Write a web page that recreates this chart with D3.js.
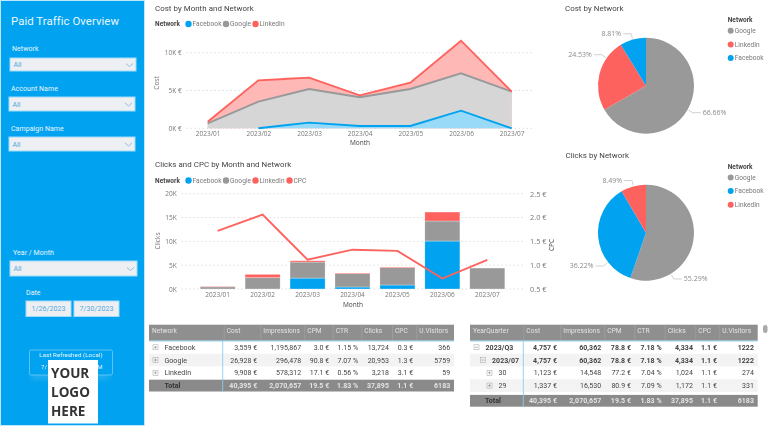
<!DOCTYPE html>
<html>
<head>
<meta charset="utf-8">
<script src="https://cdn.jsdelivr.net/npm/d3@7"></script>
<style>
  html, body { margin: 0; padding: 0; background: #fff; overflow: hidden; }
  svg { display: block; filter: blur(0.45px); }
  text { font-family: "Open Sans", sans-serif; }
  .din, .din text { font-family: Roboto, sans-serif; letter-spacing: 0.05px; }
</style>
</head>
<body>
<script>
const months = ['2023/01', '2023/02', '2023/03', '2023/04', '2023/05', '2023/06', '2023/07'];
const networks = ['Facebook', 'Google', 'LinkedIn'];

const costFacebook = [0, 0, 750, 300, 300, 2330, 0];
const costGoogle = [660, 3520, 4450, 3800, 4900, 4940, 4850];
const costLinkedIn = [220, 2820, 1500, 260, 830, 4320, 0];

const clicksFacebook = [0, 0, 2300, 420, 840, 10070, 0];
const clicksGoogle = [450, 2380, 3360, 2800, 3640, 4200, 4400];
const clicksLinkedIn = [120, 700, 280, 140, 140, 1880, 0];
const cpc = [1.72, 2.06, 1.115, 1.325, 1.30, 0.72, 1.11];

const costTicks = [0, 5000, 10000];
const clickTicks = [0, 5000, 10000, 15000, 20000];
const cpcTicks = [0.5, 1.0, 1.5, 2.0, 2.5];

const costPieNames = ['Google', 'LinkedIn', 'Facebook'];
const costPieShares = [66.66, 24.53, 8.81];
const clickPieNames = ['Google', 'Facebook', 'LinkedIn'];
const clickPieShares = [55.29, 36.22, 8.49];

const tableOneHead = ['Network', 'Cost', 'Impressions', 'CPM', 'CTR', 'Clicks', 'CPC', 'U.Visitors'];
const tableOneRows = [
  ['Facebook', '3,559 €', '1,195,867', '3.0 €', '1.15 %', '13,724', '0.3 €', '366'],
  ['Google', '26,928 €', '296,478', '90.8 €', '7.07 %', '20,953', '1.3 €', '5759'],
  ['LinkedIn', '9,908 €', '578,312', '17.1 €', '0.56 %', '3,218', '3.1 €', '59']
];
const tableTotal = ['Total', '40,395 €', '2,070,657', '19.5 €', '1.83 %', '37,895', '1.1 €', '6183'];

const tableTwoHead = ['YearQuarter', 'Cost', 'Impressions', 'CPM', 'CTR', 'Clicks', 'CPC', 'U.Visitors'];
const tableTwoRows = [
  ['2023/Q3', '4,757 €', '60,362', '78.8 €', '7.18 %', '4,334', '1.1 €', '1222'],
  ['2023/07', '4,757 €', '60,362', '78.8 €', '7.18 %', '4,334', '1.1 €', '1222'],
  ['30', '1,123 €', '14,548', '77.2 €', '7.04 %', '1,024', '1.1 €', '274'],
  ['29', '1,337 €', '16,530', '80.9 €', '7.09 %', '1,172', '1.1 €', '331']
];

const w = 768;
const h = 428;
const colors = { Facebook: '#01a2ef', Google: '#999999', LinkedIn: '#fd625e', CPC: '#fd625e' };
const lightColors = { Facebook: '#99daf9', Google: '#d6d6d6', LinkedIn: '#feb9b7' };
const textGrey = '#777';
const darkText = '#444';

const svg = d3.select('body').append('svg').attr('width', w).attr('height', h);

const addText = (parent, x, y, str, size, fill, opts = {}) => parent.append('text')
  .attr('x', x).attr('y', y)
  .attr('dy', '0.35em')
  .attr('font-size', size)
  .attr('fill', fill)
  .attr('font-weight', opts.bold ? 700 : 400)
  .attr('text-anchor', opts.anchor || 'start')
  .attr('class', opts.din ? 'din' : null)
  .attr('transform', opts.rotate ? `rotate(-90 ${x} ${y})` : null)
  .text(str);

// side panel
const side = svg.append('g').attr('class', 'din');
side.append('rect').attr('x', 0.5).attr('y', 0.5).attr('width', 144).attr('height', 425)
  .attr('fill', '#01a2ef').attr('stroke', '#bfe6fa');
addText(side, 11, 21, 'Paid Traffic Overview', 11.4, '#e8f6fe');

const slicer = (x, y, boxW, boxH, label, lx, ly) => {
  addText(side, lx, ly, label, 7, '#e8f6fe');
  side.append('rect').attr('x', x).attr('y', y).attr('width', boxW).attr('height', boxH)
    .attr('fill', '#eeeff2').attr('stroke', '#9fdcfa');
  addText(side, x + 3.5, y + boxH / 2 + 0.5, 'All', 7, '#4fa9de');
  side.append('path')
    .attr('d', d3.line()([[x + boxW - 10, y + boxH / 2 - 1], [x + boxW - 6.5, y + boxH / 2 + 2], [x + boxW - 3, y + boxH / 2 - 1]]))
    .attr('fill', 'none').attr('stroke', '#8cc4e6');
};
slicer(10, 58, 126, 13, 'Network', 12, 49);
slicer(9, 97, 126, 14, 'Account Name', 11, 89);
slicer(9, 137, 126, 14, 'Campaign Name', 11, 129);
slicer(10, 261, 127, 15, 'Year / Month', 13, 253);

addText(side, 26, 293, 'Date', 7, '#e8f6fe');
[[26, '1/26/2023'], [74, '7/30/2023']].forEach(([x, s]) => {
  side.append('rect').attr('x', x).attr('y', 301).attr('width', 45).attr('height', 15.5)
    .attr('fill', '#eeeff2').attr('stroke', '#9fdcfa');
  addText(side, x + 22.5, 309, s, 7, '#4fa9de', { anchor: 'middle' });
});

side.append('rect').attr('x', 31).attr('y', 373).attr('width', 79).attr('height', 5)
  .attr('fill', '#35b4f0').style('filter', 'blur(3px)');
side.append('rect').attr('x', 29.5).attr('y', 350).attr('width', 83).attr('height', 25).attr('rx', 1.5)
  .attr('fill', '#01a2ef').attr('stroke', '#5cc3f4');
addText(side, 71, 355, 'Last Refreshed (Local)', 6.2, '#e8f6fe', { anchor: 'middle' });
// the logo hides the middle of the date
addText(side, 41, 367, '7/', 6.2, '#e8f6fe');
addText(side, 102.7, 367, 'M', 6.2, '#e8f6fe', { anchor: 'end' });

const logo = svg.append('g');
logo.append('rect').attr('x', 48).attr('y', 360).attr('width', 50).attr('height', 63.5).attr('fill', '#fff');
['YOUR', 'LOGO', 'HERE'].forEach((s, i) => {
  addText(logo, 51, 373 + i * 19.2, s, 13.5, '#333', { bold: true });
});

// shared bits for the two charts on the left
const legendRow = (y, items) => {
  addText(svg, 155, y, 'Network', 6.5, darkText, { bold: true, din: true });
  items.forEach(d => {
    svg.append('circle').attr('cx', d.x).attr('cy', y).attr('r', 3.2).attr('fill', colors[d.name]);
    addText(svg, d.x + 4, y, d.name, 6.6, textGrey, { din: true });
  });
};

const styleAxis = (g, size, fill) => {
  g.select('.domain').remove();
  g.selectAll('.tick line').remove();
  g.selectAll('text').attr('font-size', size).attr('fill', fill)
    .attr('font-family', '"Open Sans", sans-serif');
};

// cost area chart
addText(svg, 155, 8, 'Cost by Month and Network', 7.9, '#444', { din: true });
legendRow(24, [{ name: 'Facebook', x: 188.5 }, { name: 'Google', x: 226 }, { name: 'LinkedIn', x: 255.5 }]);

const costRows = months.map((m, i) => ({ month: m, Facebook: costFacebook[i], Google: costGoogle[i], LinkedIn: costLinkedIn[i] }));
const costStack = d3.stack().keys(networks)(costRows);
const xCost = d3.scalePoint().domain(months).range([207.7, 511.7]);
const yCost = d3.scaleLinear().domain([0, 10000]).range([128.3, 52.7]);

svg.append('g').selectAll('line').data(costTicks).join('line')
  .attr('x1', 186.7).attr('x2', 531.7)
  .attr('y1', d => yCost(d)).attr('y2', d => yCost(d))
  .attr('stroke', '#cfcfcf').attr('stroke-dasharray', '1 3');

// Facebook only starts in February
const hasCost = (d, name) => name !== 'Facebook' || d.data.month !== '2023/01';
const areaGen = name => d3.area()
  .defined(d => hasCost(d, name))
  .x(d => xCost(d.data.month)).y0(yCost(0)).y1(d => yCost(d[1]));
const lineGen = name => d3.line()
  .defined(d => hasCost(d, name))
  .x(d => xCost(d.data.month)).y(d => yCost(d[1]));

costStack.slice().reverse().forEach(s => {
  svg.append('path').datum(s).attr('d', areaGen(s.key)).attr('fill', lightColors[s.key]);
});
costStack.forEach(s => {
  svg.append('path').datum(s).attr('d', lineGen(s.key))
    .attr('fill', 'none').attr('stroke', colors[s.key]).attr('stroke-width', 1.9);
});

svg.append('g').attr('transform', 'translate(181.7,0)')
  .call(d3.axisLeft(yCost).tickValues(costTicks).tickSize(0).tickPadding(0).tickFormat(d => `${d / 1000}K €`))
  .call(styleAxis, 6.5, textGrey);
svg.append('g').attr('transform', 'translate(0,131)')
  .call(d3.axisBottom(xCost).tickSize(0).tickPadding(0))
  .call(styleAxis, 6.5, textGrey);
addText(svg, 157, 83, 'Cost', 6.5, textGrey, { rotate: true, anchor: 'middle' });
addText(svg, 360, 143, 'Month', 6.5, darkText, { anchor: 'middle' });

// clicks and cpc chart
addText(svg, 155, 164.5, 'Clicks and CPC by Month and Network', 7.9, '#444', { din: true });
legendRow(180.5, [{ name: 'Facebook', x: 188.5 }, { name: 'Google', x: 226 }, { name: 'LinkedIn', x: 255.5 }, { name: 'CPC', x: 289.5 }]);

const clickRows = months.map((m, i) => ({ month: m, Facebook: clicksFacebook[i], Google: clicksGoogle[i], LinkedIn: clicksLinkedIn[i] }));
const clickStack = d3.stack().keys(networks)(clickRows);
const xClicks = d3.scaleBand().domain(months).range([195.2, 509.8]).paddingInner(0.22).paddingOuter(0.11);
const yClicks = d3.scaleLinear().domain([0, 20000]).range([289, 193.7]);
const yCpc = d3.scaleLinear().domain([0.5, 2.5]).range([289, 193.7]);

svg.append('g').selectAll('line').data(clickTicks).join('line')
  .attr('x1', 181.7).attr('x2', 525)
  .attr('y1', d => yClicks(d)).attr('y2', d => yClicks(d))
  .attr('stroke', '#cfcfcf').attr('stroke-dasharray', '1 3');

svg.append('g').selectAll('g').data(clickStack).join('g')
  .attr('fill', d => colors[d.key])
  .selectAll('rect').data(d => d).join('rect')
  .attr('x', d => xClicks(d.data.month))
  .attr('width', xClicks.bandwidth())
  .attr('y', d => yClicks(d[1]))
  .attr('height', d => yClicks(d[0]) - yClicks(d[1]))
  .attr('stroke', d => d[1] > d[0] ? '#fff' : 'none')
  .attr('stroke-opacity', 0.6)
  .attr('stroke-width', 0.5);

svg.append('path').datum(cpc)
  .attr('d', d3.line()
    .x((d, i) => xClicks(months[i]) + xClicks.bandwidth() / 2)
    .y(d => yCpc(d)))
  .attr('fill', 'none').attr('stroke', colors.CPC).attr('stroke-width', 1.9);

svg.append('g').attr('transform', 'translate(176.7,0)')
  .call(d3.axisLeft(yClicks).tickValues(clickTicks).tickSize(0).tickPadding(0).tickFormat(d => `${d / 1000}K`))
  .call(styleAxis, 6.5, textGrey);
svg.append('g').attr('transform', 'translate(530,0)')
  .call(d3.axisRight(yCpc).tickValues(cpcTicks).tickSize(0).tickPadding(0).tickFormat(d => `${d.toFixed(1)} €`))
  .call(styleAxis, 7.4, textGrey);
svg.append('g').attr('transform', 'translate(0,292.5)')
  .call(d3.axisBottom(xClicks).tickSize(0).tickPadding(0))
  .call(styleAxis, 6.5, textGrey);
addText(svg, 158, 241, 'Clicks', 6.5, textGrey, { rotate: true, anchor: 'middle' });
addText(svg, 552, 245, 'CPC', 6.5, darkText, { rotate: true, anchor: 'middle' });
addText(svg, 353, 304.7, 'Month', 6.5, darkText, { anchor: 'middle' });

// pies
const drawPie = (names, shares, cx, cy, labelAngles) => {
  const r = 48;
  const arcs = d3.pie().sort(null)(shares);
  const g = svg.append('g').attr('transform', `translate(${cx},${cy})`);
  g.selectAll('path').data(arcs).join('path')
    .attr('d', d3.arc().innerRadius(0).outerRadius(r))
    .attr('fill', (d, i) => colors[names[i]]);
  arcs.forEach((a, i) => {
    const ang = labelAngles[i] * Math.PI / 180;
    const dir = Math.sin(ang) > 0 ? 1 : -1;
    const ex = Math.sin(ang) * 54;
    const ey = -Math.cos(ang) * 54;
    g.append('path')
      .attr('d', d3.line()([[Math.sin(ang) * 49, -Math.cos(ang) * 49], [ex, ey], [ex + dir * 8, ey]]))
      .attr('fill', 'none').attr('stroke', '#bdbdbd').attr('stroke-width', 0.7);
    addText(g, ex + dir * 10, ey, `${shares[i].toFixed(2)}%`, 7, '#8a8a8a', { anchor: dir > 0 ? 'start' : 'end' });
  });
};
const pieLegend = (names, y) => {
  addText(svg, 727.7, y, 'Network', 6.5, darkText, { bold: true, din: true });
  names.forEach((n, i) => {
    svg.append('circle').attr('cx', 730.7).attr('cy', y + 10.7 + i * 13.7).attr('r', 3).attr('fill', colors[n]);
    addText(svg, 734.7, y + 10.7 + i * 13.7, n, 6.6, textGrey, { din: true });
  });
};

addText(svg, 565, 8, 'Cost by Network', 7.9, '#444', { din: true });
drawPie(costPieNames, costPieShares, 646, 85.7, [120, 305, 344]);
pieLegend(costPieNames, 20);

addText(svg, 565.5, 155, 'Clicks by Network', 7.9, '#444', { din: true });
drawPie(clickPieNames, clickPieShares, 646, 232.7, [149, 232, 345]);
pieLegend(clickPieNames, 166.7);

// tables
const drawTable = cfg => {
  const g = svg.append('g').attr('class', 'din');
  g.append('rect').attr('x', cfg.x0).attr('y', 324.7).attr('width', cfg.x1 - cfg.x0).attr('height', 16)
    .attr('fill', '#8f8f8f');
  cfg.headX.slice(1).forEach((x) => {
    g.append('line').attr('x1', x - 2.5).attr('x2', x - 2.5).attr('y1', 324.7).attr('y2', 340.7)
      .attr('stroke', '#a8a8a8').attr('stroke-width', 0.5);
  });
  cfg.head.forEach((s, i) => {
    addText(g, i === 0 ? cfg.x0 + 3 : cfg.headX[i], 331, s, 6.6, '#e4e4e4');
  });
  g.append('line').attr('x1', cfg.x0).attr('x2', cfg.x1).attr('y1', 341).attr('y2', 341)
    .attr('stroke', '#8ccdf2').attr('stroke-width', 0.9);

  cfg.rows.forEach((row, r) => {
    const y = 347.3 + r * 12.75;
    if (r % 2 === 1) {
      g.append('rect').attr('x', cfg.x0).attr('y', y - 6.3).attr('width', cfg.x1 - cfg.x0).attr('height', 12.6)
        .attr('fill', '#f3f3f3');
    }
    const indent = cfg.indent ? cfg.indent[r] : 0;
    const bx = cfg.x0 + 4 + indent;
    g.append('rect').attr('x', bx).attr('y', y - 2.5).attr('width', 5).attr('height', 5)
      .attr('fill', 'none').attr('stroke', '#a0a0a0').attr('stroke-width', 0.5);
    g.append('path')
      .attr('d', cfg.open && cfg.open[r] ? `M${bx + 1},${y}H${bx + 4}` : `M${bx + 1},${y}H${bx + 4}M${bx + 2.5},${y - 1.5}V${y + 1.5}`)
      .attr('stroke', '#777').attr('stroke-width', 0.5);
    const bold = cfg.boldRows && cfg.boldRows[r];
    addText(g, bx + 11.5, y, row[0], 7, '#444', { bold });
    row.slice(1).forEach((s, i) => {
      addText(g, cfg.rightX[i], y, s, 7, '#444', { anchor: 'end', bold });
    });
  });

  g.append('rect').attr('x', cfg.x0).attr('y', cfg.totalY - 5.8).attr('width', cfg.x1 - cfg.x0).attr('height', 11.8)
    .attr('fill', '#8a8a8a');
  addText(g, cfg.totalX, cfg.totalY, tableTotal[0], 7, '#333', { bold: true });
  tableTotal.slice(1).forEach((s, i) => {
    addText(g, cfg.rightX[i], cfg.totalY, s, 7, '#e4e4e4', { anchor: 'end', bold: true });
  });
  g.append('line').attr('x1', cfg.split).attr('x2', cfg.split).attr('y1', 341).attr('y2', cfg.totalY + 6)
    .attr('stroke', '#8ccdf2').attr('stroke-width', 0.9);
};

drawTable({
  x0: 149, x1: 454, head: tableOneHead, rows: tableOneRows, totalY: 385.5, totalX: 164.5, split: 222.7,
  headX: [149, 226.7, 263.3, 307.3, 335.7, 364.3, 395, 419.3],
  rightX: [257.3, 301.3, 329.3, 358.3, 389, 413.3, 450.3]
});
drawTable({
  x0: 470, x1: 757.7, head: tableTwoHead, rows: tableTwoRows, totalY: 400.7, totalX: 485, split: 523.3,
  headX: [470, 526.3, 563.3, 607.3, 637.3, 667.7, 698.3, 722.3],
  rightX: [557, 601.3, 631, 661.7, 693, 717, 754],
  indent: [0, 6.5, 13, 13],
  open: [true, true, false, false],
  boldRows: [true, true, false, false]
});

svg.append('rect').attr('x', 763).attr('y', 325).attr('width', 4.5).attr('height', 8).attr('rx', 2.2).attr('fill', '#aaa');
</script>
</body>
</html>
